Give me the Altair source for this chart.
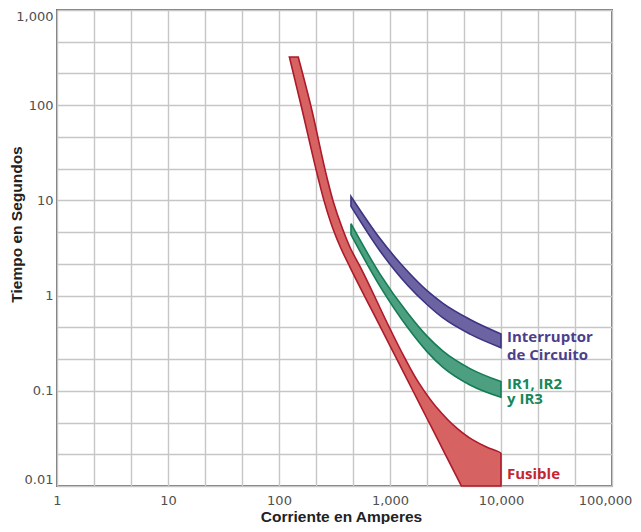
import altair as alt
import pandas as pd

# ---------------- data ----------------
# Fuse band, sampled by time (s): left (minimum melt) and right (total clearing) current (A)
fuse_t = [321, 100, 16.9, 10, 5.1, 3.16, 1.96, 0.464, 0.226, 0.124, 0.0681, 0.0412, 0.0309, 0.0255, 0.0219, 0.01]
fuse_lo = [124, 158, 226, 254, 305, 360, 439, 823, 1128, 1465, 1902, 2371, 2690, 2924, 3124, 4398]
fuse_hi = [149, 193, 272, 306, 372, 439, 545, 986, 1346, 1795, 2596, 3934, 5479, 7480, 10000, 10000]

# Circuit breaker and IR1/IR2/IR3 bands, sampled by current (A)
band_I = [445, 813, 1453, 2155, 3002, 5260, 10000]
breaker_hi = [11.0, 3.97, 1.778, 1.127, 0.830, 0.562, 0.396]
breaker_lo = [8.66, 2.94, 1.27, 0.806, 0.582, 0.394, 0.284]
ir_hi = [5.69, 1.683, 0.648, 0.375, 0.261, 0.171, 0.125]
ir_lo = [4.37, 1.250, 0.456, 0.258, 0.176, 0.115, 0.0855]

# Curve labels
label_text = ["Interruptor\nde Circuito", "IR1, IR2\ny IR3", "Fusible"]
label_I = [10000, 10000, 10000]
label_t = [0.323, 0.1057, 0.01175]
label_color = ["#4b3f8c", "#17875a", "#c4262e"]
label_group = ["a", "b", "b"]

x_ticks = [10 ** (k / 3) for k in range(0, 16)]
y_ticks = [10 ** (k / 3) for k in range(-6, 10)]

# ---------------- tables ----------------
fuse_df = pd.DataFrame({"t": fuse_t, "lo": fuse_lo, "hi": fuse_hi})
breaker_df = pd.DataFrame({"I": band_I, "hi": breaker_hi, "lo": breaker_lo})
ir_df = pd.DataFrame({"I": band_I, "hi": ir_hi, "lo": ir_lo})
label_df = pd.DataFrame({"text": label_text, "I": label_I, "t": label_t,
                         "color": label_color, "group": label_group})

xscale = alt.Scale(type="log", domain=[1, 100000], nice=False)
yscale = alt.Scale(type="log", domain=[0.01, 1000], nice=False)

decade_expr = ("abs(log(datum.value)/LN10 - round(log(datum.value)/LN10)) < 0.001 "
               "? format(datum.value, ',') : ''")

common_axis = dict(
    grid=True, gridColor="#c6c6c6", gridWidth=1.4, ticks=False, domain=False,
    labelFont="DejaVu Sans", labelFontSize=13, labelColor="#505050",
    labelExpr=decade_expr, labelOverlap=False,
    titleFont="Liberation Sans", titleFontSize=15.5, titleFontWeight="bold",
    titleColor="#222222",
)

x_axis = alt.Axis(values=x_ticks, title="Corriente en Amperes", labelPadding=8,
                  labelFlush=False,
                  labelOffset={"condition": {"test": "datum.value > 50000", "value": -7},
                               "value": 0},
                  titleX=284, titleY=35, titleBaseline="alphabetic",
                  **common_axis)
y_axis = alt.Axis(values=y_ticks, title="Tiempo en Segundos", labelPadding=4,
                  labelFlush=True, titleX=-36, titleY=214, titleBaseline="alphabetic",
                  titleAngle=-90, titleAlign="center", **common_axis)

fuse = alt.Chart(fuse_df).mark_area(
    orient="horizontal", interpolate="monotone", color="#d66262", stroke="#ad1a2b",
    strokeWidth=1.6, opacity=1,
).encode(
    y=alt.Y("t:Q", scale=yscale, axis=y_axis),
    x=alt.X("lo:Q", scale=xscale, axis=x_axis),
    x2="hi:Q",
)

breaker = alt.Chart(breaker_df).mark_area(
    orient="vertical", interpolate="monotone", color="#6c63a2", stroke="#3c3482",
    strokeWidth=1.6, opacity=1,
).encode(
    x=alt.X("I:Q", scale=xscale, axis=x_axis),
    y=alt.Y("hi:Q", scale=yscale, axis=y_axis),
    y2="lo:Q",
)

ir = alt.Chart(ir_df).mark_area(
    orient="vertical", interpolate="monotone", color="#4c9f80", stroke="#157d55",
    strokeWidth=1.6, opacity=1,
).encode(
    x=alt.X("I:Q", scale=xscale, axis=x_axis),
    y=alt.Y("hi:Q", scale=yscale, axis=y_axis),
    y2="lo:Q",
)


def label_layer(group, line_height):
    return alt.Chart(label_df).transform_filter(
        alt.datum.group == group
    ).mark_text(
        align="left", baseline="alphabetic", dx=6, font="Open Sans",
        fontSize=15, fontWeight="bold", lineBreak="\n", lineHeight=line_height,
    ).encode(
        x=alt.X("I:Q", scale=xscale, axis=x_axis),
        y=alt.Y("t:Q", scale=yscale, axis=y_axis),
        text="text:N",
        color=alt.Color("color:N", scale=None),
    )


chart = alt.layer(fuse, breaker, ir, label_layer("a", 17.5), label_layer("b", 15)).properties(
    width=555, height=476,
    autosize=alt.AutoSizeParams(type="none"),
    padding={"left": 49, "top": 2, "right": 21, "bottom": 38},
).configure_view(
    stroke="#777777", strokeWidth=2,
)

chart.save("out.html", embed_options={"renderer": "svg", "actions": False})
